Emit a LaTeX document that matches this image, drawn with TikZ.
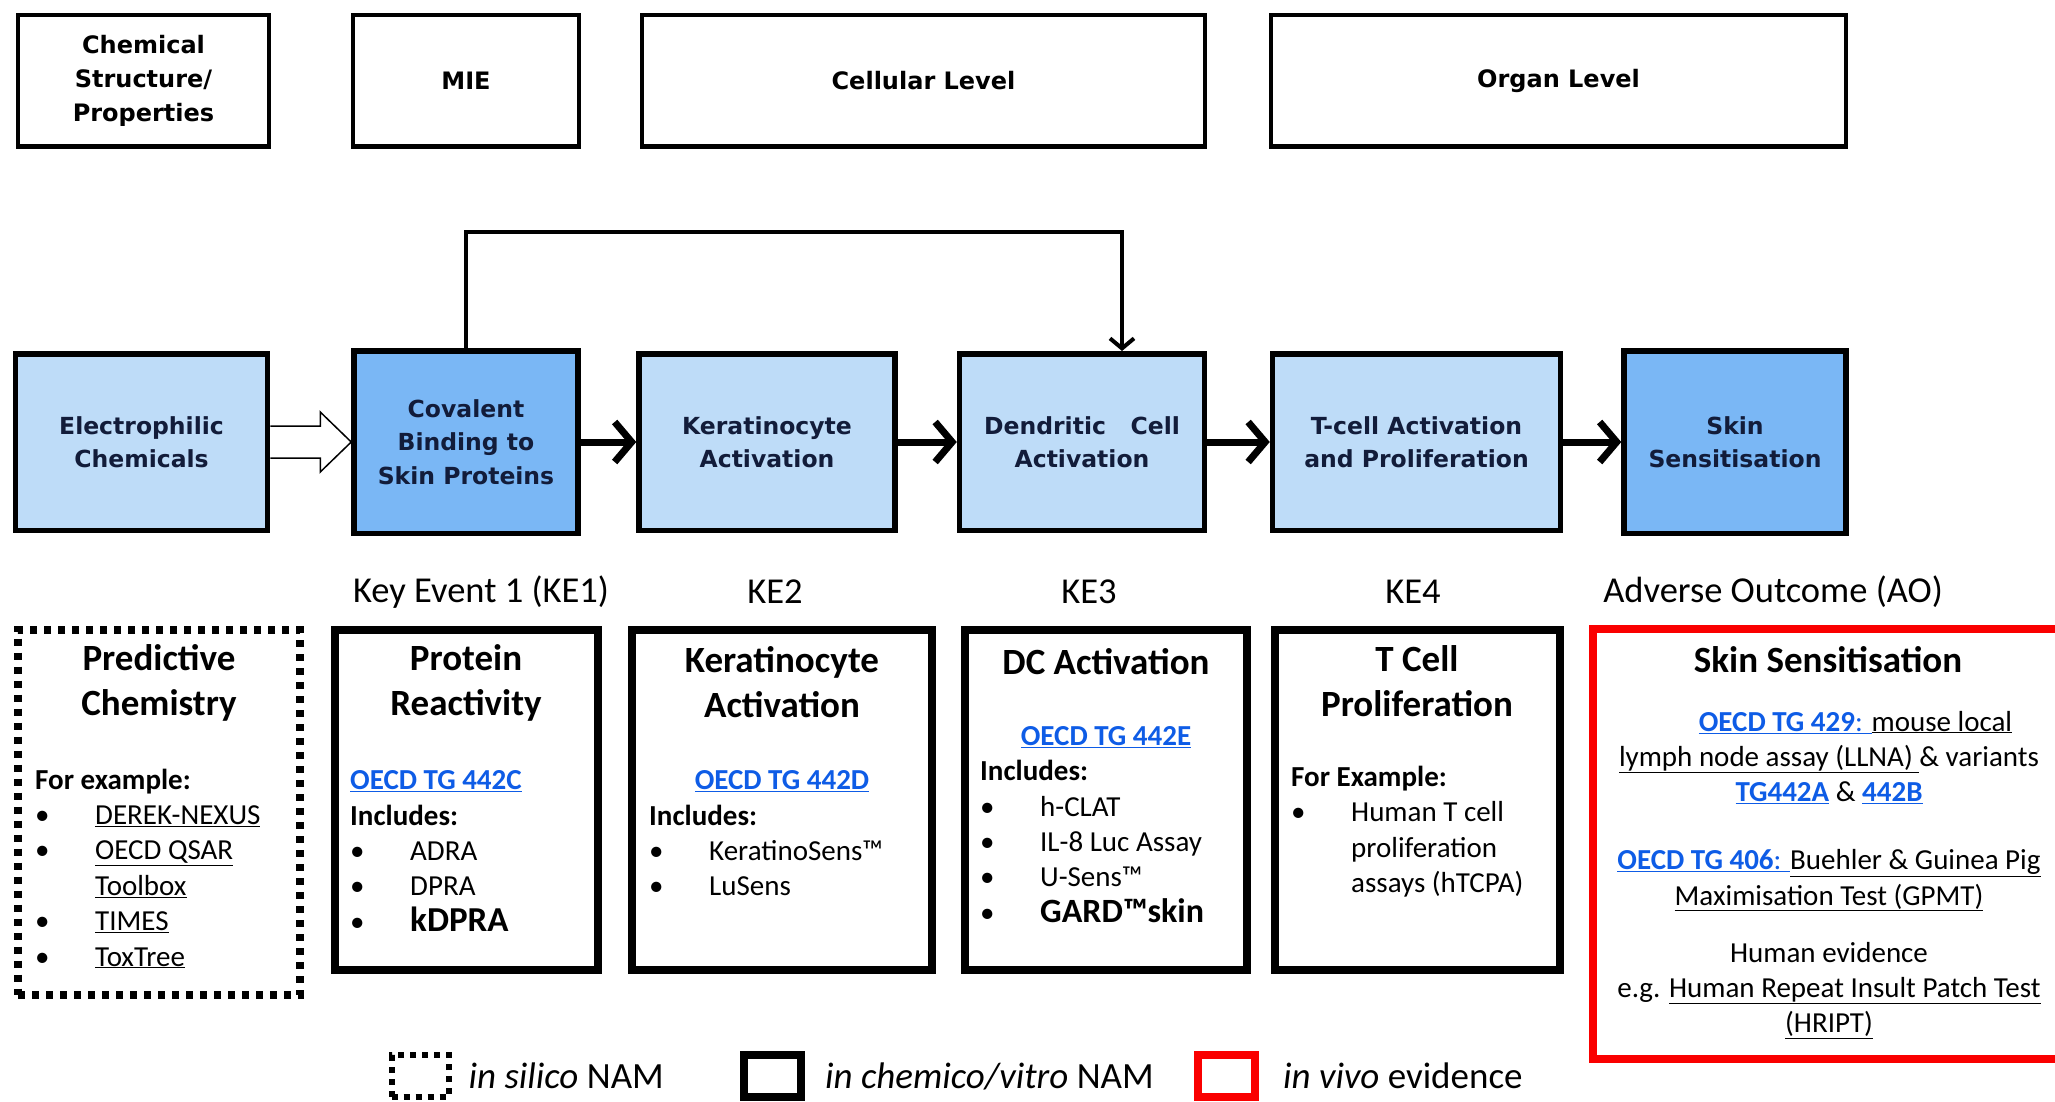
\documentclass[tikz,border=0pt]{standalone}
\usepackage{fontspec}
\setmainfont{Carlito}
\newfontfamily\boxfont{DejaVu Sans}
\usetikzlibrary{arrows.meta,positioning,calc}
\definecolor{ke-light}{RGB}{190,220,248}
\definecolor{ke-dark}{RGB}{122,183,245}
\definecolor{ke-navy}{RGB}{18,28,58}
\definecolor{link-blue}{RGB}{14,92,230}
\definecolor{vivo-red}{RGB}{250,0,0}
\newcommand{\lnk}[1]{\textcolor{link-blue}{\underline{\textbf{#1}}}}
\newcommand{\itm}[1]{\makebox[60pt][l]{\textbullet}#1}

\begin{document}
\begin{tikzpicture}[x=1pt, y=-1pt, >={Straight Barb[length=10pt,width=24pt]},
    font=\fontsize{29}{35.4}\selectfont, node distance=15pt,
    hdr/.style={draw, line width=4.5pt, minimum height=131.5pt, align=center, font=\boxfont\bfseries\fontsize{24}{34}\selectfont},
    ke/.style={draw, line width=5.5pt, fill=ke-light, minimum height=176.5pt, align=center, text=ke-navy, font=\boxfont\bfseries\fontsize{23.5}{33.4}\selectfont},
    kedark/.style={ke, fill=ke-dark, minimum height=182.5pt},
    flow/.style={-{Straight Barb[length=17pt,width=40pt]}, line width=7pt},
    nam/.style={draw, line width=8pt, minimum height=340pt},
    silico/.style={nam, dash pattern=on 7pt off 7pt},
    vivo/.style={draw=vivo-red, line width=8pt},
    head/.style={align=center, font=\bfseries\fontsize{37}{45}\selectfont},
    lst/.style={align=left, anchor=west, inner sep=0pt},
    kelab/.style={font=\fontsize{36.5}{40}\selectfont},
    legtxt/.style={font=\fontsize{37}{40}\selectfont, inner sep=2pt}]
  \useasboundingbox (0,0) rectangle (2055,1102);

  \node[hdr, minimum width=251pt] (chem) at (143.5,81) {Chemical\\Structure/\\Properties};
  \node[hdr, minimum width=226pt] (mie) at (466,81) {MIE};
  \node[hdr, minimum width=563pt] (cell) at (923.5,81) {Cellular Level};
  \node[hdr, minimum width=575pt] (organ) at (1558.5,81) {Organ Level};

  \node[ke, minimum width=252pt] (ele) at (141.5,442) {Electrophilic\\Chemicals};
  \node[kedark, minimum width=224pt] (cov) at (466,442) {Covalent\\Binding to\\Skin Proteins};
  \node[ke, minimum width=256pt] (ker) at (767,442) {Keratinocyte\\Activation};
  \node[ke, minimum width=245pt] (den) at (1082,442) {Dendritic\ \ \ Cell\\Activation};
  \node[ke, minimum width=288pt] (tce) at (1416.5,442) {T-cell Activation\\and Proliferation};
  \node[kedark, minimum width=222pt] (skn) at (1735,442) {Skin\\Sensitisation};

  \draw[line width=1.5pt, fill=white] ($(ele.east)+(0,-16)$) -- ($(cov.west)+(-31,-16)$)
    -- ($(cov.west)+(-31,-30)$) -- (cov.west) -- ($(cov.west)+(-31,30)$)
    -- ($(cov.west)+(-31,16)$) -- ($(ele.east)+(0,16)$);
  \draw[flow] (cov) -- (ker);
  \draw[flow] (ker) -- (den);
  \draw[flow] (den) -- (tce);
  \draw[flow] (tce) -- (skn);
  \draw[->, line width=4pt] (cov.north) -- ++(0,-116) -| ($(den.north)+(40,0)$);

  \node[kelab] (ke1) at (481,592) {Key Event 1 (KE1)};
  \node[kelab] (ke2) at (775,592) {KE2};
  \node[kelab] (ke3) at (1089,592) {KE3};
  \node[kelab] (ke4) at (1413,592) {KE4};
  \node[kelab] (ao) at (1773,592) {Adverse Outcome (AO)};

  \node[silico, minimum width=282pt, minimum height=365pt] (pred) at (159,812) {};
  \node[nam, minimum width=263pt] (prot) at (466.5,799.5) {};
  \node[nam, minimum width=300pt] (kera) at (782,799.5) {};
  \node[nam, minimum width=282pt] (dca) at (1106,799.5) {};
  \node[nam, minimum width=285pt] (tcp) at (1417,799.5) {};
  \node[vivo, minimum width=469pt, minimum height=430pt] (aobox) at (1827.5,844) {};

  \node[head] (predh) at (159,682.5) {Predictive\\Chemistry};
  \node[lst] (predl) at (35,868.5) {\textbf{For example:}\\ \itm{\underline{DEREK-NEXUS}}\\
    \itm{\underline{OECD QSAR}}\\ \hspace*{60pt}\underline{Toolbox}\\ \itm{\underline{TIMES}}\\ \itm{\underline{ToxTree}}};

  \node[head] (proth) at (466,682.5) {Protein\\Reactivity};
  \node[lst] (protl) at (350,851) {\lnk{OECD TG 442C}\\ \textbf{Includes:}\\ \itm{ADRA}\\ \itm{DPRA}\\
    \itm{{\bfseries\fontsize{35}{35.4}\selectfont kDPRA}}};

  \node[head] (kerah) at (782,682.5) {Keratinocyte\\Activation};
  \node (keral) at (782,781) {\lnk{OECD TG 442D}};
  \node[lst] (keras) at (649,850.5) {\textbf{Includes:}\\ \itm{KeratinoSens\texttrademark}\\ \itm{LuSens}};

  \node[head] (dcah) at (1106,662) {DC Activation};
  \node (dcal) at (1106,737) {\lnk{OECD TG 442E}};
  \node[lst] (dcas) at (980,841.5) {\textbf{Includes:}\\ \itm{h-CLAT}\\ \itm{IL-8 Luc Assay}\\ \itm{U-Sens\texttrademark}\\
    \itm{{\bfseries\fontsize{34}{35.4}\selectfont GARD\texttrademark skin}}};

  \node[head] (tcph) at (1417,681.5) {T Cell\\Proliferation};
  \node[lst] (tcpl) at (1291,831.5) {\textbf{For Example:}\\ \itm{Human T cell}\\ \hspace*{60pt}proliferation\\
    \hspace*{60pt}assays (hTCPA)};

  \node[head] (aoh) at (1828,660) {Skin Sensitisation};
  \node[align=center] (llna) at (1829,757.5) {\hspace*{53pt}\textcolor{link-blue}{\underline{\textbf{OECD TG 429}: }}\underline{mouse local}\\
    \underline{lymph node assay (LLNA) }\& variants\\ \lnk{TG442A} \& \lnk{442B}};
  \node[align=center] (gpmt) at (1829,880.5) {\textcolor{link-blue}{\underline{\textbf{OECD TG 406}: }}\underline{Buehler \& Guinea Pig}\\
    \underline{Maximisation Test (GPMT)}};
  \node[align=center] (hript) at (1829,990.5) {Human evidence\\ e.g. \underline{Human Repeat Insult Patch Test}\\ \underline{(HRIPT)}};

  \node[silico, minimum width=57pt, minimum height=42pt, line width=6pt, dash pattern=on 6pt off 6pt] (lgsil) at (420,1076) {};
  \node[legtxt, right=15pt of lgsil] (lgsilt) {\textit{in silico} NAM};
  \node[nam, minimum width=57pt, minimum height=42pt] (lgvit) at (772.5,1076) {};
  \node[legtxt, right=18pt of lgvit] (lgvitt) {\textit{in chemico/vitro} NAM};
  \node[vivo, minimum width=57pt, minimum height=42pt] (lgviv) at (1226.5,1076) {};
  \node[legtxt, right=22pt of lgviv] (lgvivt) {\textit{in vivo} evidence};
\end{tikzpicture}
\end{document}
